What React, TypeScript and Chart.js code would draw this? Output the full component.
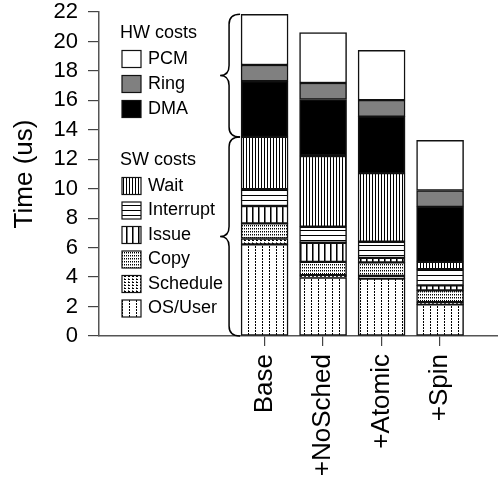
import React, { useEffect, useRef } from 'react';
import { Chart, registerables } from 'chart.js';
Chart.register(...registerables);

const categories = ['Base', '+NoSched', '+Atomic', '+Spin'];
const osUser = [6.22, 3.97, 3.9, 2.15];
const schedule = [0.4, 0.16, 0.18, 0.15];
const copy = [1.03, 0.9, 0.92, 0.8];
const issue = [1.18, 1.3, 0.31, 0.34];
const interrupt = [1.14, 1.09, 1.09, 1.1];
const wait = [3.55, 4.8, 4.66, 0.49];
const dma = [3.78, 3.84, 3.84, 3.74];
const ring = [1.1, 1.12, 1.12, 1.11];
const pcm = [3.44, 3.42, 3.38, 3.41];
const yTickValues = [0, 2, 4, 6, 8, 10, 12, 14, 16, 18, 20, 22];
const hwTitle = 'HW costs';
const swTitle = 'SW costs';
const hwLabels = ['PCM', 'Ring', 'DMA'];
const swLabels = ['Wait', 'Interrupt', 'Issue', 'Copy', 'Schedule', 'OS/User'];

const FONT = '"Liberation Sans", Arial, Helvetica, sans-serif';

function tile(w: number, h: number, px: Array<[number, number, string]>, bg = '#fff') {
  const c = document.createElement('canvas');
  c.width = w;
  c.height = h;
  const g = c.getContext('2d')!;
  g.fillStyle = bg;
  g.fillRect(0, 0, w, h);
  for (const [x, y, col] of px) {
    g.fillStyle = col;
    g.fillRect(x, y, 1, 1);
  }
  const ctx = document.createElement('canvas').getContext('2d')!;
  return ctx.createPattern(c, 'repeat')!;
}

export default function App() {
  const ref = useRef<HTMLCanvasElement>(null);
  useEffect(() => {
    if (!ref.current) return;
    const patterns: Record<string, any> = {
      'OS/User': tile(7, 3, [[3, 0, '#000'], [3, 1, '#000']]),
      Schedule: tile(4, 3, [[0, 0, '#000'], [1, 0, '#000'], [0, 2, '#666']]),
      Copy: tile(2, 3, [[0, 0, '#000'], [0, 1, '#888']]),
      Issue: tile(6, 1, [[0, 0, '#000'], [1, 0, '#777']]),
      Interrupt: tile(1, 5, [[0, 0, '#000']]),
      Wait: tile(3, 1, [[0, 0, '#000']]),
      DMA: '#000000',
      Ring: '#808080',
      PCM: '#ffffff',
    };
    const series: Array<[string, number[]]> = [
      ['OS/User', osUser],
      ['Schedule', schedule],
      ['Copy', copy],
      ['Issue', issue],
      ['Interrupt', interrupt],
      ['Wait', wait],
      ['DMA', dma],
      ['Ring', ring],
      ['PCM', pcm],
    ];
    const BAR = 47;
    const datasets = series.map(([label, vals]) => ({
      label,
      data: vals.map((v, i) => ({ x: i, y: v })),
      backgroundColor: patterns[label],
      borderColor: '#111',
      borderWidth: 1.5,
      borderSkipped: false as const,
      barThickness: BAR,
    }));

    const legendPlugin = {
      id: 'customLegend',
      afterDraw(chart: any) {
        const ctx = chart.ctx as CanvasRenderingContext2D;
        const xs = chart.scales.x;
        const ys = chart.scales.y;
        ctx.save();
        ctx.font = `18px ${FONT}`;
        ctx.textBaseline = 'middle';
        ctx.textAlign = 'left';
        ctx.fillStyle = '#000';
        const sx = 122, sw = 19, sh = 17, tx = 148;
        const drawItem = (label: string, y: number) => {
          ctx.fillStyle = patterns[label];
          ctx.fillRect(sx, y - sh / 2, sw, sh);
          ctx.strokeStyle = '#111';
          ctx.lineWidth = 1.2;
          ctx.strokeRect(sx, y - sh / 2, sw, sh);
          ctx.fillStyle = '#000';
          ctx.fillText(label, tx, y);
        };
        ctx.fillText(hwTitle, 120, 33);
        hwLabels.forEach((l, i) => drawItem(l, 59 + i * 25));
        ctx.fillStyle = '#000';
        ctx.fillText(swTitle, 120, 160);
        swLabels.forEach((l, i) => drawItem(l, 186 + i * 24.5));

        // braces spanning the first bar
        const swTotal = osUser[0] + schedule[0] + copy[0] + issue[0] + interrupt[0] + wait[0];
        const total = swTotal + dma[0] + ring[0] + pcm[0];
        const xr = xs.getPixelForValue(0) - BAR / 2 - 1;
        const xm = xr - 11;
        const xt = xr - 20;
        const brace = (y0: number, y1: number) => {
          const ym = (y0 + y1) / 2;
          const r = 10;
          ctx.beginPath();
          ctx.moveTo(xr, y0);
          ctx.quadraticCurveTo(xm, y0, xm, y0 + r);
          ctx.lineTo(xm, ym - r);
          ctx.quadraticCurveTo(xm, ym, xt, ym);
          ctx.quadraticCurveTo(xm, ym, xm, ym + r);
          ctx.lineTo(xm, y1 - r);
          ctx.quadraticCurveTo(xm, y1, xr, y1);
          ctx.strokeStyle = '#000';
          ctx.lineWidth = 1.5;
          ctx.stroke();
        };
        brace(ys.getPixelForValue(total), ys.getPixelForValue(swTotal));
        brace(ys.getPixelForValue(swTotal), ys.getPixelForValue(0));
        ctx.restore();
      },
    };

    const chart = new Chart(ref.current, {
      type: 'bar',
      data: { datasets: datasets as any },
      options: {
        animation: false,
        responsive: false,
        layout: { padding: { top: 12, left: 0, right: 0, bottom: 0 } },
        plugins: { legend: { display: false }, tooltip: { enabled: false } },
        scales: {
          x: {
            type: 'linear',
            stacked: true,
            offset: false,
            min: -2.83,
            max: 3.99,
            afterBuildTicks: (axis: any) => {
              axis.ticks = categories.map((_, i) => ({ value: i }));
            },
            afterFit: (s: any) => {
              s.height = 150;
              s.paddingLeft = 0;
              s.paddingRight = 0;
            },
            ticks: {
              autoSkip: false,
              maxRotation: 90,
              minRotation: 90,
              padding: 8,
              color: '#000',
              font: { family: FONT, size: 26 },
              callback: (v: any) => categories[v as number] ?? '',
            },
            grid: { offset: false, drawOnChartArea: false, drawTicks: true, tickLength: 10, color: '#444', lineWidth: 1.2 },
            border: { display: true, color: '#555', width: 1.5 },
          },
          y: {
            stacked: true,
            min: 0,
            max: 22,
            afterBuildTicks: (axis: any) => {
              axis.ticks = yTickValues.map((v) => ({ value: v }));
            },
            afterFit: (s: any) => {
              s.width = 99;
              s.paddingTop = 0;
              s.paddingBottom = 0;
            },
            ticks: {
              autoSkip: false,
              padding: 10,
              color: '#000',
              font: { family: FONT, size: 22 },
            },
            grid: { drawOnChartArea: false, drawTicks: true, tickLength: 11, color: '#444', lineWidth: 1.2 },
            border: { display: true, color: '#555', width: 1.5 },
            title: {
              display: true,
              text: 'Time (us)',
              color: '#000',
              font: { family: FONT, size: 26 },
              padding: { top: 9, bottom: 0 },
            },
          },
        },
      },
      plugins: [legendPlugin],
    });
    return () => chart.destroy();
  }, []);
  return (
    <div style={{ position: 'absolute', left: 0, top: 0, width: 498, height: 486 }}>
      <canvas ref={ref} width={498} height={486} />
    </div>
  );
}
